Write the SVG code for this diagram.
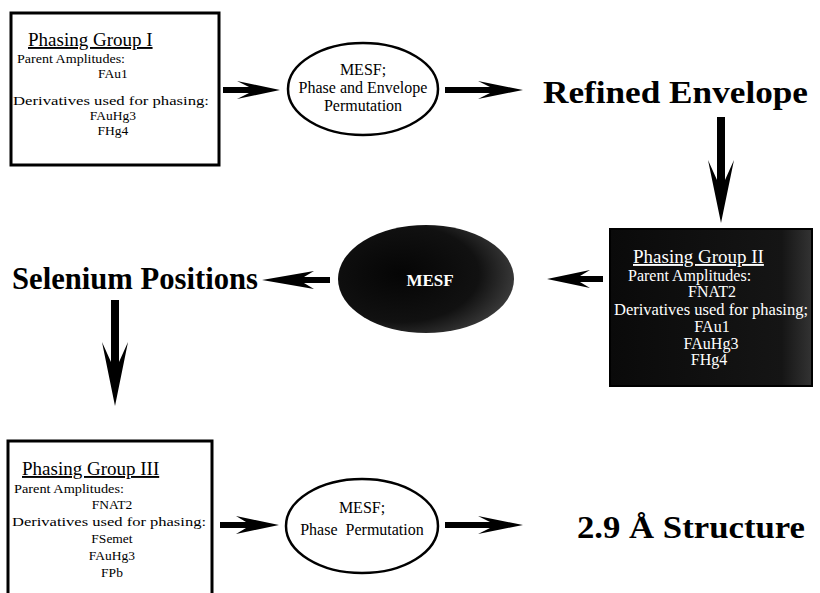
<svg xmlns="http://www.w3.org/2000/svg" width="820" height="593" viewBox="0 0 820 593" font-family="'Liberation Serif', 'Times New Roman', serif">
<defs>
<style>
.box{fill:#fff;stroke:#000;stroke-width:3}
.dbox{stroke:#000;stroke-width:2}
.ell{fill:#fff;stroke:#000;stroke-width:2.5}
.w{fill:#fff}
.ttl{font-size:19px;text-decoration:underline}
.sm{font-size:13.5px}
.md{font-size:16px}
.big{font-size:31px;font-weight:bold}
.c{text-anchor:middle}
.arr{fill:#000}
</style>
<radialGradient id="dg" cx="0.35" cy="0.45" r="0.75">
<stop offset="0" stop-color="#050505"/>
<stop offset="0.6" stop-color="#111"/>
<stop offset="1" stop-color="#4a4a4a"/>
</radialGradient>
<linearGradient id="bg" x1="0" y1="0" x2="1" y2="0">
<stop offset="0" stop-color="#0a0a0a"/>
<stop offset="0.85" stop-color="#151515"/>
<stop offset="1" stop-color="#333"/>
</linearGradient>
</defs>
<rect width="820" height="593" fill="#fff"/>

<g id="group1">
<rect class="box" x="11" y="13" width="208" height="152"/>
<text class="ttl" x="28" y="46">Phasing Group I</text>
<text class="sm" x="17" y="63" textLength="108" lengthAdjust="spacingAndGlyphs">Parent Amplitudes:</text>
<text class="sm c" x="113" y="78">FAu1</text>
<text class="sm" x="13" y="105" textLength="196" lengthAdjust="spacingAndGlyphs">Derivatives used for phasing:</text>
<text class="sm c" x="113" y="120">FAuHg3</text>
<text class="sm c" x="113" y="135">FHg4</text>
</g>

<g id="mesf1">
<ellipse class="ell" cx="363" cy="89" rx="75" ry="46"/>
<text class="md c" x="363" y="75">MESF;</text>
<text class="md c" x="363" y="93">Phase and Envelope</text>
<text class="md c" x="363" y="111">Permutation</text>
</g>

<g id="refined">
<text class="big" x="543" y="103" textLength="265" lengthAdjust="spacingAndGlyphs">Refined Envelope</text>
</g>

<g id="group2">
<rect class="dbox" x="610" y="229" width="202" height="157" fill="url(#bg)"/>
<text class="w ttl" x="633" y="263" font-size="20">Phasing Group II</text>
<text class="w md" x="628" y="281">Parent Amplitudes:</text>
<text class="w md c" x="712" y="297">FNAT2</text>
<text class="w md" x="614" y="315" textLength="194" lengthAdjust="spacingAndGlyphs">Derivatives used for phasing;</text>
<text class="w md c" x="712" y="332">FAu1</text>
<text class="w md c" x="711" y="349">FAuHg3</text>
<text class="w md c" x="709" y="365">FHg4</text>
</g>

<g id="mesf2">
<ellipse cx="426" cy="279" rx="88" ry="54" fill="url(#dg)"/>
<text class="w c" x="430" y="286" font-size="17" font-weight="bold">MESF</text>
</g>

<g id="selenium">
<text class="big" x="12" y="289" textLength="246" lengthAdjust="spacingAndGlyphs">Selenium Positions</text>
</g>

<g id="group3">
<rect class="box" x="8" y="441" width="204" height="160"/>
<text class="ttl" x="22" y="475">Phasing Group III</text>
<text class="sm" x="14" y="493" textLength="110" lengthAdjust="spacingAndGlyphs">Parent Amplitudes:</text>
<text class="sm c" x="112" y="509">FNAT2</text>
<text class="sm" x="12" y="526" textLength="194" lengthAdjust="spacingAndGlyphs">Derivatives used for phasing:</text>
<text class="sm c" x="112" y="543">FSemet</text>
<text class="sm c" x="112" y="560">FAuHg3</text>
<text class="sm c" x="112" y="577">FPb</text>
</g>

<g id="mesf3">
<ellipse class="ell" cx="362" cy="526" rx="76" ry="47"/>
<text class="md c" x="362" y="513">MESF;</text>
<text class="md c" x="362" y="535" xml:space="preserve">Phase  Permutation</text>
</g>

<g id="structure">
<text class="big" x="577" y="538" textLength="228" lengthAdjust="spacingAndGlyphs">2.9 Å Structure</text>
</g>

<g id="connectors">
<path class="arr" d="M223,87 L249,87 L237,81 L280,90 L237,99 L249,93 L223,93 Z"/>
<path class="arr" d="M445,87 L490,87 L478,81 L523,90 L478,99 L490,93 L445,93 Z"/>
<path class="arr" d="M717,117 L725,117 L725,180 L734,160 L721,223 L708,160 L717,180 Z"/>
<path class="arr" d="M603,276 L580,276 L590,270 L547,279 L590,288 L580,282 L603,282 Z"/>
<path class="arr" d="M330,277 L304,277 L314,271 L262,280 L314,289 L304,283 L330,283 Z"/>
<path class="arr" d="M111,300 L119,300 L119,362 L128,342 L115,406 L102,342 L111,362 Z"/>
<path class="arr" d="M220,522 L246,522 L236,516 L279,525 L236,534 L246,528 L220,528 Z"/>
<path class="arr" d="M445,522 L490,522 L478,516 L523,525 L478,534 L490,528 L445,528 Z"/>
</g>
</svg>
